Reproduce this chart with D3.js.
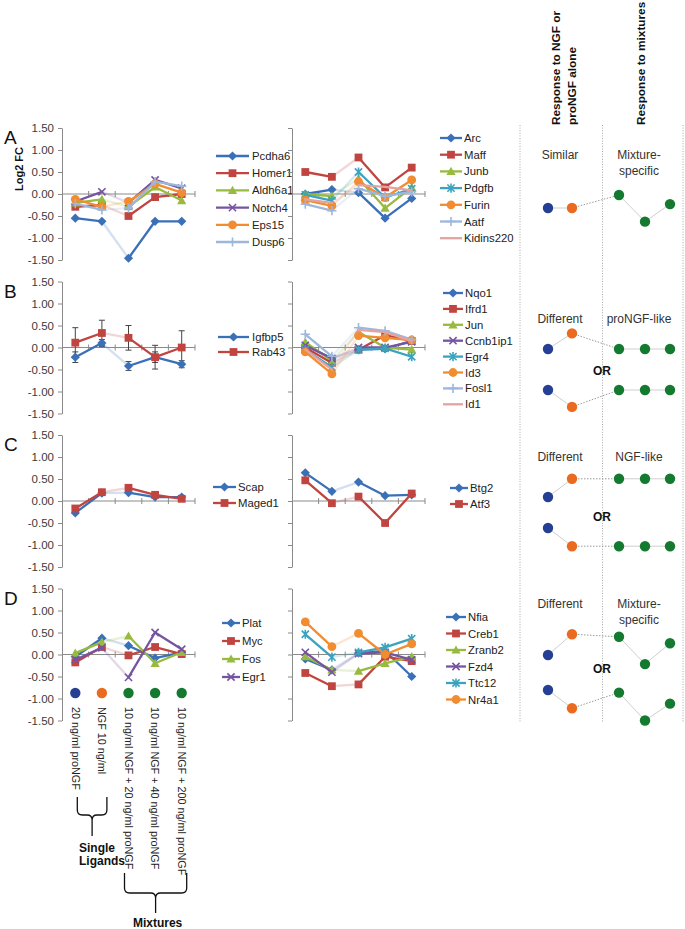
<!DOCTYPE html>
<html><head><meta charset="utf-8">
<script src="https://cdn.jsdelivr.net/npm/d3@7"></script>
<style>body{margin:0;background:#fff}svg{display:block;font-family:"Liberation Sans",Arial,sans-serif}</style>
</head><body><svg id="c" width="685" height="929"></svg>
<script>
// ---------------- DATA ----------------
const categories = ["20 ng/ml proNGF", "NGF 10 ng/ml", "10 ng/ml NGF + 20 ng/ml proNGF", "10 ng/ml NGF + 40 ng/ml proNGF", "10 ng/ml NGF + 200 ng/ml proNGF"];
const categoryGroups = ["Single Ligands", "Mixtures"];
const yTicks = [-1.5, -1, -0.5, 0, 0.5, 1, 1.5];
const panelLetters = ["A", "B", "C", "D"];
const yTitle = "Log2 FC";

const aLeftGenes = ["Pcdha6", "Homer1", "Aldh6a1", "Notch4", "Eps15", "Dusp6"];
const aLeftValues = [
  [-0.55, -0.62, -1.46, -0.62, -0.62],
  [-0.29, -0.25, -0.50, -0.07, 0.00],
  [-0.20, -0.12, -0.29, 0.16, -0.15],
  [-0.17, 0.05, -0.20, 0.32, 0.13],
  [-0.12, -0.29, -0.17, 0.23, 0.03],
  [-0.22, -0.36, -0.32, 0.28, 0.18]
];
const aRightGenes = ["Arc", "Maff", "Junb", "Pdgfb", "Furin", "Aatf", "Kidins220"];
const aRightValues = [
  [0.00, 0.10, 0.03, -0.55, -0.10],
  [0.50, 0.39, 0.83, 0.15, 0.60],
  [0.00, -0.05, 0.35, -0.32, 0.15],
  [-0.02, -0.15, 0.50, -0.08, 0.12],
  [-0.14, -0.27, 0.28, -0.08, 0.32],
  [-0.23, -0.38, 0.12, -0.05, 0.05],
  [-0.12, -0.20, 0.20, 0.16, 0.08]
];
const bLeftGenes = ["Igfbp5", "Rab43"];
const bLeftValues = [
  [-0.22, 0.10, -0.42, -0.22, -0.38],
  [0.11, 0.33, 0.22, -0.22, 0.00]
];
const bLeftErrors = [
  [0.12, 0.08, 0.10, 0.12, 0.08],
  [0.34, 0.29, 0.28, 0.27, 0.38]
];
const bRightGenes = ["Nqo1", "Ifrd1", "Jun", "Ccnb1ip1", "Egr4", "Id3", "Fosl1", "Id1"];
const bRightValues = [
  [0.05, -0.25, -0.05, -0.03, 0.15],
  [0.00, -0.35, -0.05, 0.28, 0.15],
  [0.12, -0.30, 0.35, 0.00, -0.05],
  [0.05, -0.25, 0.00, 0.00, 0.13],
  [-0.05, -0.45, -0.05, -0.02, -0.21],
  [-0.10, -0.60, 0.27, 0.22, 0.17],
  [0.30, -0.20, 0.45, 0.38, 0.18],
  [-0.05, -0.50, 0.40, 0.35, 0.15]
];
const cLeftGenes = ["Scap", "Maged1"];
const cLeftValues = [
  [-0.27, 0.18, 0.19, 0.09, 0.09],
  [-0.17, 0.20, 0.30, 0.14, 0.05]
];
const cRightGenes = ["Btg2", "Atf3"];
const cRightValues = [
  [0.64, 0.22, 0.43, 0.12, 0.14],
  [0.47, -0.05, 0.10, -0.50, 0.17]
];
const dLeftGenes = ["Plat", "Myc", "Fos", "Egr1"];
const dLeftValues = [
  [-0.05, 0.37, 0.20, -0.08, 0.05],
  [-0.18, 0.17, -0.02, 0.17, 0.01],
  [0.03, 0.28, 0.42, -0.20, 0.05],
  [-0.12, 0.15, -0.52, 0.50, 0.12]
];
const dRightGenes = ["Nfia", "Creb1", "Zranb2", "Fzd4", "Ttc12", "Nr4a1"];
const dRightValues = [
  [-0.10, -0.35, 0.03, 0.08, -0.50],
  [-0.42, -0.72, -0.68, -0.05, -0.15],
  [-0.05, -0.35, -0.38, -0.20, -0.05],
  [0.05, -0.40, 0.02, 0.05, -0.12],
  [0.46, -0.06, 0.05, 0.16, 0.36],
  [0.74, 0.18, 0.48, 0.00, 0.24]
];

// schematic column
const schemaHeaders = [["Response to NGF or", "proNGF alone"], ["Response to mixtures"]];
const schemaLeftLabels = ["Similar", "Different", "Different", "Different"];
const schemaRightLabels = [["Mixture-", "specific"], ["proNGF-like"], ["NGF-like"], ["Mixture-", "specific"]];
// relative levels of the 5 conditions (proNGF, NGF, mix1, mix2, mix3)
const schemaPatterns = [
  [[0, 0, 1.0, -1.05, 0.3]],
  [[0, 1.2, 0, 0, 0], [0, -1.3, 0, 0, 0]],
  [[0, 1.4, 1.4, 1.4, 1.4], [0, -1.4, -1.4, -1.4, -1.4]],
  [[0, 1.6, 1.4, -0.7, 0.9], [0, -1.4, -0.2, -2.35, -1.05]]
];
const orLabel = "OR";

// ---------------- STYLE / LAYOUT ----------------
const svg = d3.select("#c");
const FONT = '"Liberation Sans", Arial, sans-serif';
const colorMap = {blue: "#3a70b8", red: "#c0443f", green: "#98ba3e", purple: "#7554a0", teal: "#3ba3c0",
  orange: "#f28c30", lightblue: "#9db7dc", pink: "#e4a2a0"};
const dotColors = ["#253f95", "#ea6a1f", "#137a30", "#137a30", "#137a30"];
const markerOf = {blue: "diamond", red: "square", green: "triangle", purple: "x", teal: "asterisk",
  orange: "circle", lightblue: "plus", pink: "none"};

const panelZero = [194, 347.5, 501, 654.5];
const halfH = 66;
const plotW = 133;
const leftX0 = 62, rightX0 = 292;

const panels = [
  {left: {genes: aLeftGenes, values: aLeftValues, styles: ["blue","red","green","purple","orange","lightblue"],
          leg: {x1: 216, x2: 249, tx: 252, y0: 156, dy: 17.2}},
   right: {genes: aRightGenes, values: aRightValues, styles: ["blue","red","green","teal","orange","lightblue","pink"],
          leg: {x1: 440, x2: 462, tx: 464, y0: 138, dy: 16.7}}},
  {left: {genes: bLeftGenes, values: bLeftValues, errors: bLeftErrors, styles: ["blue","red"],
          leg: {x1: 218, x2: 249, tx: 252, y0: 337, dy: 15}},
   right: {genes: bRightGenes, values: bRightValues, styles: ["blue","red","green","purple","teal","orange","lightblue","pink"],
          leg: {x1: 443, x2: 463, tx: 465, y0: 293, dy: 15.9}}},
  {left: {genes: cLeftGenes, values: cLeftValues, styles: ["blue","red"],
          leg: {x1: 213, x2: 236, tx: 238, y0: 487, dy: 16}},
   right: {genes: cRightGenes, values: cRightValues, styles: ["blue","red"],
          leg: {x1: 450, x2: 468, tx: 470, y0: 488, dy: 16}}},
  {left: {genes: dLeftGenes, values: dLeftValues, styles: ["blue","red","green","purple"],
          leg: {x1: 222, x2: 240, tx: 242, y0: 623, dy: 18}},
   right: {genes: dRightGenes, values: dRightValues, styles: ["blue","red","green","purple","teal","orange"],
          leg: {x1: 446, x2: 466, tx: 468, y0: 617, dy: 16.5}}}
];

function markerPath(type) {
  switch (type) {
    case "diamond": return "M0,-4.6L4.6,0L0,4.6L-4.6,0Z";
    case "square": return "M-3.9,-3.9H3.9V3.9H-3.9Z";
    case "triangle": return "M0,-4.6L4.6,3.6H-4.6Z";
    case "x": return "M-3.6,-3.6L3.6,3.6M-3.6,3.6L3.6,-3.6";
    case "asterisk": return "M-3.6,-3.6L3.6,3.6M-3.6,3.6L3.6,-3.6M0,-4.6V4.6";
    case "plus": return "M-4.6,0H4.6M0,-4.6V4.6";
    default: return null;
  }
}
function drawMarker(g, type, color, cx, cy) {
  if (type === "none") return;
  if (type === "circle") {
    g.append("circle").attr("cx", cx).attr("cy", cy).attr("r", 4.4).attr("fill", color);
    return;
  }
  const p = g.append("path").attr("d", markerPath(type)).attr("transform", `translate(${cx},${cy})`);
  if (["x", "asterisk", "plus"].includes(type)) p.attr("fill", "none").attr("stroke", color).attr("stroke-width", 1.6);
  else p.attr("fill", color);
}

function drawChart(x0, zero, cfg, showLabels) {
  const x = d3.scalePoint().domain(categories).range([x0, x0 + plotW]).padding(0.5);
  const band = d3.scaleBand().domain(categories).range([x0, x0 + plotW]);
  const y = d3.scaleLinear().domain([-1.5, 1.5]).range([zero + halfH, zero - halfH]);
  const g = svg.append("g");
  const axis = d3.axisLeft(y).tickValues(yTicks).tickSize(4).tickSizeOuter(0)
    .tickFormat(showLabels ? (v => v.toFixed(2)) : "");
  const ag = g.append("g").attr("transform", `translate(${x0},0)`).call(axis);
  ag.select(".domain").attr("stroke", "#8a8a8a");
  ag.selectAll(".tick line").attr("stroke", "#8a8a8a");
  ag.selectAll(".tick text").attr("fill", "#3a3a3a").attr("x", -8)
    .style("font-size", "11.5px").style("font-family", FONT);
  // category axis at zero
  g.append("line").attr("x1", x0).attr("x2", x0 + plotW).attr("y1", y(0)).attr("y2", y(0))
    .attr("stroke", "#8a8a8a");
  categories.forEach((c, i) => {
    const bx = band(c) + band.bandwidth();
    g.append("line").attr("x1", bx).attr("x2", bx).attr("y1", y(0) - 3).attr("y2", y(0) + 3)
      .attr("stroke", "#8a8a8a");
  });
  // error bars
  if (cfg.errors) {
    cfg.errors.forEach((errs, si) => {
      errs.forEach((e, i) => {
        const cx = x(categories[i]);
        const v = cfg.values[si][i];
        const eg = g.append("g").attr("stroke", "#444").attr("stroke-width", 1);
        eg.append("line").attr("x1", cx).attr("x2", cx).attr("y1", y(v - e)).attr("y2", y(v + e));
        eg.append("line").attr("x1", cx - 3).attr("x2", cx + 3).attr("y1", y(v - e)).attr("y2", y(v - e));
        eg.append("line").attr("x1", cx - 3).attr("x2", cx + 3).attr("y1", y(v + e)).attr("y2", y(v + e));
      });
    });
  }
  // series
  cfg.values.forEach((vals, si) => {
    const col = colorMap[cfg.styles[si]];
    const mk = markerOf[cfg.styles[si]];
    const sg = g.append("g");
    for (let i = 0; i < vals.length - 1; i++) {
      sg.append("line")
        .attr("x1", x(categories[i])).attr("y1", y(vals[i]))
        .attr("x2", x(categories[i + 1])).attr("y2", y(vals[i + 1]))
        .attr("stroke", col).attr("stroke-width", 2.3).attr("stroke-linecap", "round")
        .attr("stroke-opacity", i === 1 ? 0.22 : 1);
    }
    vals.forEach((v, i) => drawMarker(sg, mk, col, x(categories[i]), y(v)));
  });
  // legend
  const L = cfg.leg;
  cfg.genes.forEach((name, si) => {
    const col = colorMap[cfg.styles[si]];
    const mk = markerOf[cfg.styles[si]];
    const ly = L.y0 + si * L.dy;
    const lg = g.append("g");
    lg.append("line").attr("x1", L.x1).attr("x2", L.x2).attr("y1", ly).attr("y2", ly)
      .attr("stroke", col).attr("stroke-width", 2.3);
    drawMarker(lg, mk, col, (L.x1 + L.x2) / 2, ly);
    lg.append("text").attr("x", L.tx).attr("y", ly).attr("dy", "0.36em")
      .attr("fill", "#222").style("font-size", "11.3px").style("font-family", FONT).text(name);
  });
  return {x, y};
}

let lastScales;
panels.forEach((p, pi) => {
  const zero = panelZero[pi];
  lastScales = drawChart(leftX0, zero, p.left, true);
  drawChart(rightX0, zero, p.right, false);
  svg.append("text").attr("x", 4).attr("y", zero - 57 + 7).attr("fill", "#111")
    .style("font-size", "19px").style("font-family", FONT).text(panelLetters[pi]);
});
// y title (panel A)
svg.append("text").attr("transform", `translate(19,${panelZero[0] - 25}) rotate(-90)`)
  .attr("text-anchor", "middle").attr("dy", "0.35em").style("font-weight", "bold")
  .style("font-size", "11px").style("font-family", FONT).attr("fill", "#111").text(yTitle);

// condition dots and rotated labels under panel D
const xs = lastScales.x;
const dotY = 693;
categories.forEach((c, i) => {
  svg.append("circle").attr("cx", xs(c)).attr("cy", dotY).attr("r", 5.2).attr("fill", dotColors[i]);
  svg.append("text").attr("transform", `translate(${xs(c)},707) rotate(90)`)
    .attr("dy", "0.35em").attr("fill", "#222").style("font-size", "10.8px").style("font-family", FONT).text(c);
});
// braces
function brace(xa, xb, ytop, ymid, ybot) {
  const xm = (xa + xb) / 2;
  const r = 5;
  return `M${xa},${ytop}V${ymid - r}Q${xa},${ymid} ${xa + r},${ymid}H${xm - r}Q${xm},${ymid} ${xm},${ymid + r}V${ybot}` +
         `M${xb},${ytop}V${ymid - r}Q${xb},${ymid} ${xb - r},${ymid}H${xm + r}Q${xm},${ymid} ${xm},${ymid + r}`;
}
const xa0 = xs(categories[0]) + 2, xb0 = xs(categories[1]) + 5;
svg.append("path").attr("d", brace(xa0, xb0, 797, 815, 836)).attr("fill", "none").attr("stroke", "#111").attr("stroke-width", 1.3);
svg.append("text").attr("x", 79).attr("y", 852).style("font-weight", "bold").style("font-size", "12px")
  .style("font-family", FONT).attr("fill", "#111").text(categoryGroups[0].split(" ")[0]);
svg.append("text").attr("x", 79).attr("y", 865).style("font-weight", "bold").style("font-size", "12px")
  .style("font-family", FONT).attr("fill", "#111").text(categoryGroups[0].split(" ")[1]);
const xa1 = xs(categories[2]) - 4, xb1 = xs(categories[4]) + 5;
svg.append("path").attr("d", brace(xa1, xb1, 873, 893, 913)).attr("fill", "none").attr("stroke", "#111").attr("stroke-width", 1.3);
svg.append("text").attr("x", (xa1 + xb1) / 2 + 2).attr("y", 927).attr("text-anchor", "middle").style("font-weight", "bold")
  .style("font-size", "12px").style("font-family", FONT).attr("fill", "#111").text(categoryGroups[1]);

// ---------------- schematic column ----------------
[520, 602.5, 683].forEach(xv => {
  svg.append("line").attr("x1", xv).attr("x2", xv).attr("y1", 125).attr("y2", 722)
    .attr("stroke", "#a8a8a8").attr("stroke-width", 1).attr("stroke-dasharray", "1,1.6");
});
const headerX = [[556, 572], [641]];
schemaHeaders.forEach((lines, hi) => {
  lines.forEach((t, li) => {
    svg.append("text").attr("transform", `translate(${headerX[hi][li]},125) rotate(-90)`)
      .attr("dy", "0.36em").style("font-weight", "bold").style("font-size", "11.8px")
      .style("font-family", FONT).attr("fill", "#111").text(t);
  });
});
const schemaX = d3.scaleOrdinal().domain([0, 1, 2, 3, 4]).range([548, 572, 619, 645, 670]);
const schemaStep = 13;
const schemaLabelY = [155, 319, 457, 604];
const schemaBaseY = [[208], [349, 390], [497, 528], [655, 690]];
const orY = [null, 371, 517, 669];
schemaLeftLabels.forEach((t, i) => {
  svg.append("text").attr("x", 560).attr("y", schemaLabelY[i]).attr("dy", "0.36em").attr("text-anchor", "middle")
    .style("font-size", "12px").style("font-family", FONT).attr("fill", "#333").text(t);
  schemaRightLabels[i].forEach((t2, j) => {
    svg.append("text").attr("x", 639).attr("y", schemaLabelY[i] + j * 16).attr("dy", "0.36em").attr("text-anchor", "middle")
      .style("font-size", "12px").style("font-family", FONT).attr("fill", "#333").text(t2);
  });
  if (orY[i]) {
    svg.append("text").attr("x", 602).attr("y", orY[i]).attr("dy", "0.36em").attr("text-anchor", "middle")
      .style("font-weight", "bold").style("font-size", "12px").style("font-family", FONT).attr("fill", "#111").text(orLabel);
  }
  schemaPatterns[i].forEach((pat, k) => {
    const base = schemaBaseY[i][k];
    const sy = v => base - v * schemaStep;
    const sg = svg.append("g");
    for (let j = 0; j < 4; j++) {
      sg.append("line").attr("x1", schemaX(j)).attr("y1", sy(pat[j])).attr("x2", schemaX(j + 1)).attr("y2", sy(pat[j + 1]))
        .attr("stroke", j === 1 ? "#9a9a9a" : "#cfcfcf").attr("stroke-width", 1)
        .attr("stroke-dasharray", j === 1 ? "1.5,1.5" : null);
    }
    pat.forEach((v, j) => sg.append("circle").attr("cx", schemaX(j)).attr("cy", sy(v)).attr("r", 5.2).attr("fill", dotColors[j]));
  });
});
</script></body></html>
